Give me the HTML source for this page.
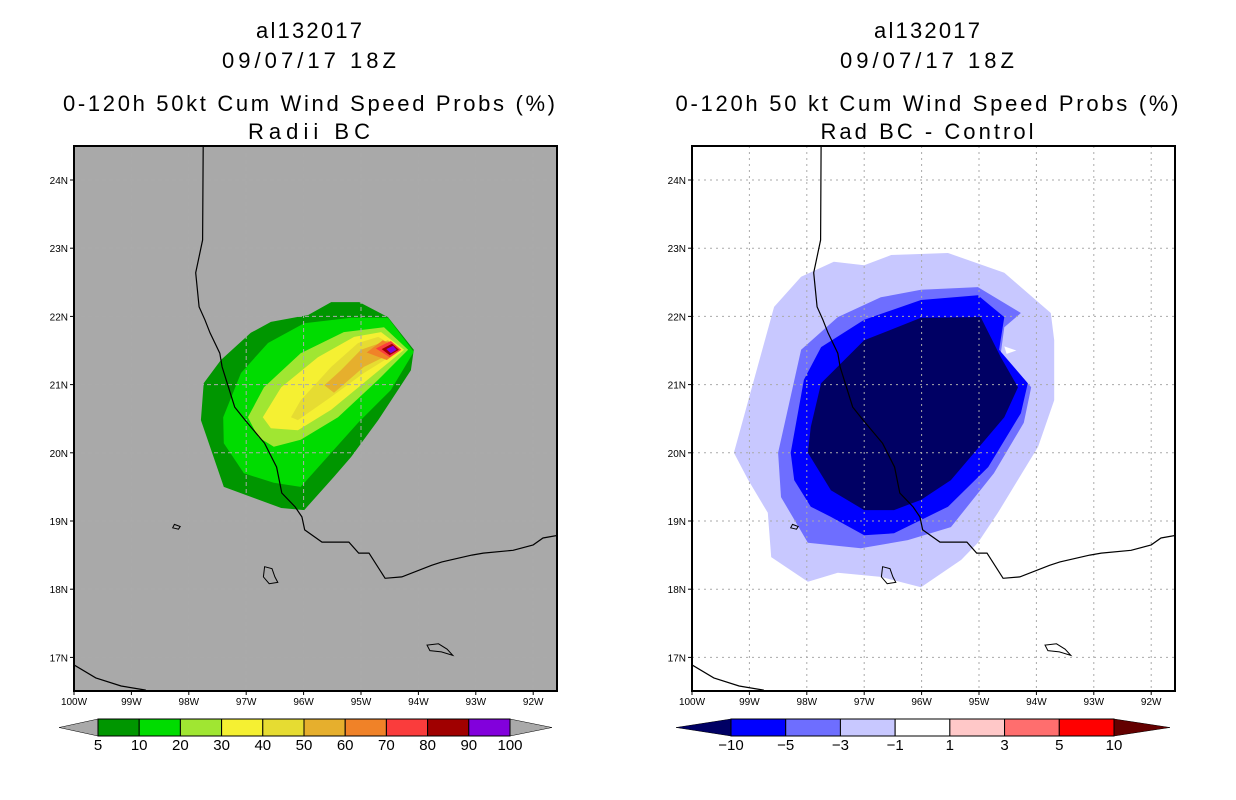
<!DOCTYPE html>
<html><head><meta charset="utf-8"><style>
body{margin:0;background:#fff;}
svg{display:block;font-family:"Liberation Sans",sans-serif;}
.t{font-size:22px;text-anchor:middle;fill:#000}
.tk{font-size:10px;fill:#000}
.cb{font-size:15px;text-anchor:middle;fill:#000}
</style></head><body>
<svg id="chart" width="1236" height="800" viewBox="0 0 1236 800">
<g id="left"></g>
<g id="right"></g>
</svg>
<script>
// Data (lon, lat pairs)
const prob5=[[-95.52,22.21],[-95.03,22.21],[-94.53,21.99],[-94.08,21.51],[-94.13,21.21],[-94.70,20.48],[-95.17,19.94],[-95.47,19.65],[-95.99,19.16],[-96.39,19.19],[-97.39,19.50],[-97.79,20.48],[-97.74,21.02],[-97.44,21.36],[-96.92,21.76],[-96.57,21.92],[-95.92,22.02]];
const prob10=[[-94.53,21.98],[-94.08,21.48],[-94.48,20.92],[-95.05,20.44],[-95.52,20.00],[-96.05,19.50],[-96.52,19.56],[-97.04,19.70],[-97.39,20.14],[-97.40,20.52],[-97.09,21.17],[-96.62,21.61],[-95.99,21.90],[-95.17,21.98]];
const prob20=[[-94.60,21.84],[-94.18,21.51],[-94.70,21.07],[-95.40,20.52],[-96.05,20.19],[-96.52,20.09],[-96.79,20.23],[-96.97,20.52],[-96.69,20.96],[-96.05,21.46],[-95.30,21.77]];
const prob30=[[-94.65,21.77],[-94.25,21.51],[-94.83,21.11],[-95.52,20.63],[-96.10,20.33],[-96.57,20.36],[-96.71,20.52],[-96.39,20.96],[-95.75,21.40],[-95.12,21.70]];
const prob40=[[-94.70,21.70],[-94.30,21.51],[-94.95,21.17],[-95.52,20.82],[-96.10,20.48],[-96.22,20.52],[-96.05,20.77],[-95.52,21.26],[-95.05,21.61]];
const prob50=[[-94.53,21.65],[-94.34,21.51],[-94.95,21.26],[-95.47,20.88],[-95.64,20.99],[-95.35,21.21],[-95.00,21.51]];
const prob60=[[-94.62,21.65],[-94.30,21.51],[-94.55,21.36],[-94.90,21.47]];
const prob70=[[-94.74,21.53],[-94.48,21.64],[-94.30,21.51],[-94.50,21.40]];
const prob80=[[-94.64,21.52],[-94.46,21.60],[-94.34,21.51],[-94.50,21.43]];
const prob90=[[-94.56,21.52],[-94.44,21.57],[-94.38,21.51],[-94.48,21.46]];
const diffM1=[[-99.27,20.00],[-98.92,21.07],[-98.57,22.14],[-98.10,22.58],[-97.53,22.80],[-97.00,22.75],[-96.53,22.90],[-95.54,22.93],[-94.56,22.64],[-93.75,22.05],[-93.69,21.65],[-93.69,20.77],[-93.97,20.09],[-94.67,19.12],[-95.02,18.68],[-95.31,18.43],[-96.01,18.03],[-96.71,18.18],[-97.46,18.24],[-97.98,18.11],[-98.62,18.47],[-98.68,19.12],[-99.02,19.60]];
const diffM3=[[-98.50,20.00],[-98.10,21.51],[-97.46,21.99],[-96.71,22.28],[-96.01,22.39],[-95.02,22.43],[-94.27,22.05],[-94.56,21.84],[-94.62,21.46],[-94.09,20.96],[-94.22,20.44],[-94.74,19.70],[-95.49,18.91],[-96.24,18.72],[-97.06,18.60],[-97.98,18.68],[-98.45,19.35]];
const diffM5=[[-98.28,20.00],[-98.05,21.07],[-97.75,21.55],[-97.00,21.95],[-96.01,22.24],[-95.02,22.31],[-94.56,21.99],[-94.65,21.51],[-94.15,21.02],[-94.27,20.58],[-94.84,19.79],[-95.54,19.21],[-96.48,18.82],[-97.00,18.79],[-97.58,19.06],[-97.93,19.21],[-98.22,19.60]];
const diffM10=[[-97.93,20.38],[-97.75,21.02],[-97.00,21.65],[-96.01,21.98],[-94.97,21.99],[-94.62,21.40],[-94.32,20.96],[-94.56,20.52],[-95.49,19.60],[-96.01,19.31],[-96.48,19.16],[-97.00,19.16],[-97.58,19.45],[-97.98,20.00]];
const notch=[[-94.56,21.56],[-94.35,21.50],[-94.52,21.45]];
const coast=[[-97.75,24.51],[-97.76,23.12],[-97.88,22.64],[-97.82,22.14],[-97.72,21.95],[-97.63,21.76],[-97.46,21.46],[-97.42,21.26],[-97.20,20.67],[-97.02,20.48],[-96.68,20.14],[-96.47,19.79],[-96.38,19.41],[-96.15,19.21],[-96.03,19.06],[-95.98,18.87],[-95.68,18.69],[-95.21,18.69],[-95.04,18.53],[-94.86,18.53],[-94.58,18.16],[-94.29,18.18],[-93.77,18.35],[-93.59,18.40],[-93.07,18.50],[-92.87,18.53],[-92.35,18.57],[-92.00,18.65],[-91.83,18.75],[-91.57,18.79]];
const coastSW=[[-100,16.89],[-99.62,16.70],[-99.18,16.58],[-98.75,16.52]];
const island1=[[-96.68,18.33],[-96.55,18.30],[-96.50,18.18],[-96.45,18.10],[-96.60,18.08],[-96.70,18.18]];
const island2=[[-93.85,17.18],[-93.65,17.20],[-93.50,17.12],[-93.40,17.03],[-93.60,17.08],[-93.80,17.10]];
const island3=[[-98.25,18.95],[-98.15,18.92],[-98.18,18.88],[-98.28,18.90]];
const lonTicks=[-100,-99,-98,-97,-96,-95,-94,-93,-92];
const lonLabels=["100W","99W","98W","97W","96W","95W","94W","93W","92W"];
const latTicks=[24,23,22,21,20,19,18,17];
const latLabels=["24N","23N","22N","21N","20N","19N","18N","17N"];
const probLevels=["5","10","20","30","40","50","60","70","80","90","100"];
const probColors=["#009600","#00dc00","#a0e632","#f5f032","#e6dc32","#e6af2d","#f08228","#fa3c3c","#a00000","#8200dc"];
const diffLevels=["\u221210","\u22125","\u22123","\u22121","1","3","5","10"];
const diffColors=["#0000ff","#6e6eff","#c8c8ff","#ffffff","#ffc8c8","#ff6e6e","#ff0000"];

const NS='http://www.w3.org/2000/svg';
function mk(parent,tag,attrs){const e=document.createElementNS(NS,tag);for(const k in attrs)e.setAttribute(k,attrs[k]);parent.appendChild(e);return e;}
function panel(g,x0,bg,gridColor,gridDash){
  const W=483,H=545,y0=146;
  const xs=lon=>x0+(lon+100)*57.4;
  const ys=lat=>y0+34+(24-lat)*68.2;
  const pts=a=>a.map(p=>xs(p[0]).toFixed(1)+','+ys(p[1]).toFixed(1)).join(' ');
  const clip=mk(g,'clipPath',{id:'c'+x0});mk(clip,'rect',{x:x0,y:y0,width:W,height:H});
  const bgr=mk(g,'rect',{x:x0,y:y0,width:W,height:H,fill:bg});
  
  const inner=mk(g,'g',{'clip-path':'url(#c'+x0+')'});
  return {xs,ys,pts,inner,W,H,y0,x0,
    finish(){
      lonTicks.forEach((l,i)=>{const x=xs(l);
        const gl=mk(inner,'line',{x1:x,x2:x,y1:y0,y2:y0+H,stroke:gridColor,'stroke-dasharray':gridDash,'stroke-width':1});
        
        mk(g,'line',{x1:x,x2:x,y1:y0+H,y2:y0+H+4,stroke:'#000'});
        const t=mk(g,'text',{x:x,y:y0+H+14,class:'tk','text-anchor':'middle'});t.textContent=lonLabels[i];
        });
      latTicks.forEach((l,i)=>{const y=ys(l);
        const gl=mk(inner,'line',{x1:x0,x2:x0+W,y1:y,y2:y,stroke:gridColor,'stroke-dasharray':gridDash,'stroke-width':1});
        
        mk(g,'line',{x1:x0-4,x2:x0,y1:y,y2:y,stroke:'#000'});
        const t=mk(g,'text',{x:x0-6,y:y+4,class:'tk','text-anchor':'end'});t.textContent=latLabels[i];
        });
      [coast,coastSW].forEach(c=>{const p=mk(inner,'polyline',{points:pts(c),fill:'none',stroke:'#000','stroke-width':1.2});
        });
      [island1,island2,island3].forEach(c=>{const p=mk(inner,'polygon',{points:pts(c),fill:'none',stroke:'#000','stroke-width':1});
        });
      const fr=mk(g,'rect',{x:x0,y:y0,width:W,height:H,fill:'none',stroke:'#000','stroke-width':2});
      
    }};
}
function title(g,cx,lines,lens){
  [30,60,103,131].forEach((y,i)=>{const t=mk(g,'text',{x:cx,y:y+8,class:'t',textLength:lens[i],lengthAdjust:'spacing'});t.textContent=lines[i];
    });
}
function colorbar(g,x1,x2,tipL,tipR,colors,labels,lc,rc){
  const y=719,h=17,n=colors.length,w=(x2-x1)/n;
  const a1=mk(g,'polygon',{points:`${tipL},${y+h/2} ${x1},${y} ${x1},${y+h}`,fill:lc,stroke:'#000','stroke-width':0.5});
  
  const a2=mk(g,'polygon',{points:`${tipR},${y+h/2} ${x2},${y} ${x2},${y+h}`,fill:rc,stroke:'#000','stroke-width':0.5});
  
  colors.forEach((c,i)=>{const r=mk(g,'rect',{x:x1+i*w,y:y,width:w,height:h,fill:c,stroke:'#000','stroke-width':1});
    });
  labels.forEach((l,i)=>{const t=mk(g,'text',{x:x1+i*w,y:y+h+14,class:'cb'});t.textContent=l;
    });
}
// Left panel
const L=document.getElementById('left');
title(L,309,['al132017','09/07/17 18Z','0-120h 50kt Cum Wind Speed Probs (%)','Radii BC'],[106,174,492,122]);
const pl=panel(L,74,'#a9a9a9','#ababab','4,3');
[prob5,prob10,prob20,prob30,prob40,prob50,prob60,prob70,prob80,prob90].forEach((a,i)=>{
  const p=mk(pl.inner,'polygon',{points:pl.pts(a),fill:probColors[i]});
  
  
});
pl.finish();
colorbar(L,98,510,59,552,probColors,probLevels,'#a9a9a9','#a9a9a9');
// Right panel
const R=document.getElementById('right');
title(R,927,['al132017','09/07/17 18Z','0-120h 50 kt Cum Wind Speed Probs (%)','Rad BC - Control'],[106,174,503,213]);
const pr=panel(R,692,'#ffffff','#aaaaaa','2,4');
const dcol=['#c8c8ff','#6e6eff','#0000ff','#000064'];
[diffM1,diffM3,diffM5,diffM10].forEach((a,i)=>{
  const p=mk(pr.inner,'polygon',{points:pr.pts(a),fill:dcol[i]});
  
  
});
const nt=mk(pr.inner,'polygon',{points:pr.pts(notch),fill:'#fff'});


pr.finish();
colorbar(R,731,1114,676,1170,diffColors,diffLevels,'#000064','#640000');
</script>
</body></html>
